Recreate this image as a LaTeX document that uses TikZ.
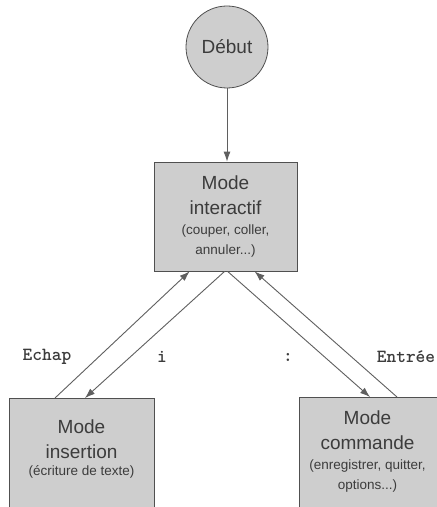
\documentclass[tikz,border=0pt]{standalone}
\usepackage{fontspec}
\setmainfont{Liberation Sans}
\usetikzlibrary{arrows.meta}
\definecolor{boxfill}{RGB}{206,206,206}
\definecolor{boxline}{RGB}{80,80,80}
\definecolor{txt}{RGB}{60,60,60}
\definecolor{arrline}{RGB}{95,95,95}
\begin{document}
\begin{tikzpicture}[x=1pt,y=1pt,
  stepbox/.style={draw=boxline, fill=boxfill, line width=0.8pt, inner sep=0pt},
  bigtxt/.style={text=txt, align=center, font=\fontsize{19}{25}\selectfont, inner sep=0pt},
  smalltxt/.style={text=txt, align=center, font=\fontsize{13.5}{20}\selectfont, inner sep=0pt},
  keytxt/.style={text=txt, font=\fontsize{18.5}{20}\ttfamily\bfseries, inner sep=0pt},
  arr/.style={draw=arrline, line width=0.9pt, -{Latex[length=10pt,width=7pt]}},
  plain/.style={draw=arrline, line width=0.9pt}]
\useasboundingbox[fill=white] (0,0) rectangle (437,507);
% start
\node[stepbox, circle, minimum size=82pt] (debut) at (227,460) {};
\node[bigtxt] (debutT) at (227,460) {Début};
% interactive
\node[stepbox, minimum width=143pt, minimum height=109pt] (inter) at (225.5,290.5) {};
\node[bigtxt] (interA) at (225.5,312) {Mode\\interactif};
\node[smalltxt] (interB) at (225.5,266) {(couper, coller,\\annuler...)};
% insertion
\node[stepbox, minimum width=145pt, minimum height=110pt, anchor=north west] (ins) at (9,109) {};
\node[bigtxt] (insA) at (81.5,68) {Mode\\insertion};
\node[smalltxt] (insB) at (81.5,35) {(écriture de texte)};
% command
\node[stepbox, minimum width=138pt, minimum height=111pt, anchor=north west] (cmd) at (299,110) {};
\node[bigtxt] (cmdA) at (367.5,77) {Mode\\commande};
\node[smalltxt] (cmdB) at (367.5,31) {(enregistrer, quitter,\\options...)};
% keys
\node[keytxt] (k1) at (47,150) {Echap};
\node[keytxt] (k2) at (162,150) {i};
\node[keytxt] (k3) at (288,150) {:};
\node[keytxt] (k4) at (406,150) {Entrée};
% connectors
\draw[arr] (debut.south) -- (inter.north -| debut.south);
\draw[arr] ([xshift=46pt]ins.north west) -- ([xshift=36pt]inter.south west);
\draw[arr] ([xshift=71pt]inter.south west) -- ([xshift=76pt]ins.north west);
\draw[arr] ([xshift=74pt]inter.south west) -- ([xshift=71pt]cmd.north west);
\draw[arr] ([xshift=98pt]cmd.north west) -- ([xshift=101pt]inter.south west);
\end{tikzpicture}
\end{document}
